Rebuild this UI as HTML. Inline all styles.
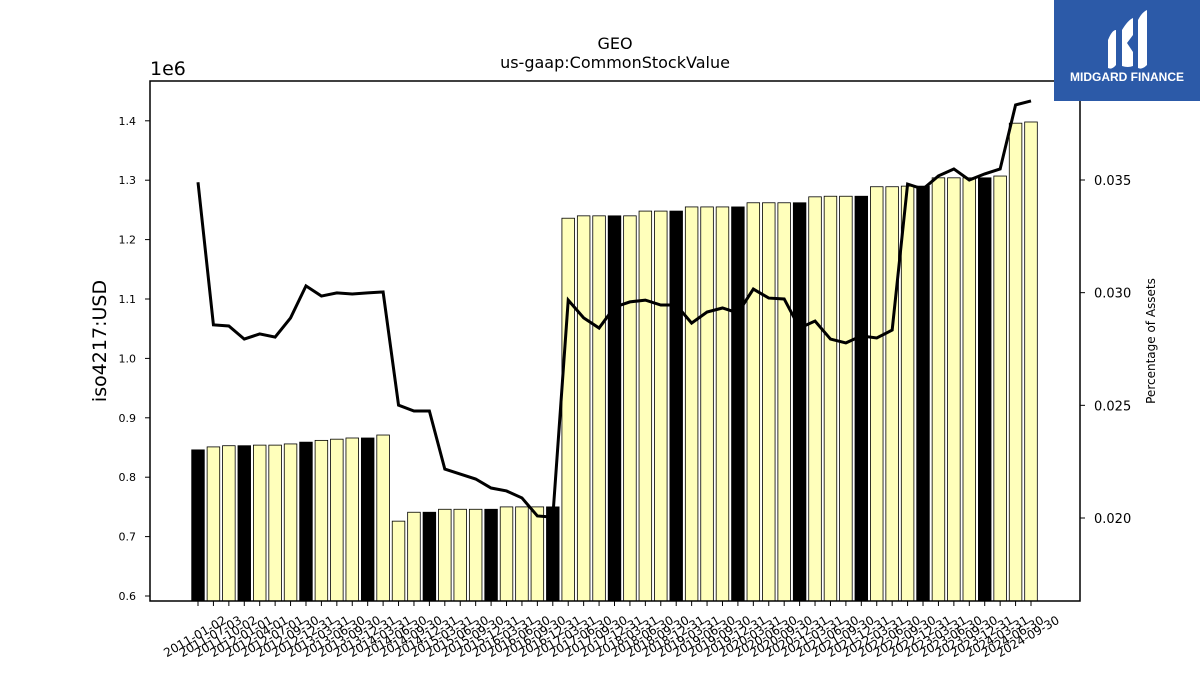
<!DOCTYPE html>
<html><head><meta charset="utf-8"><style>
body{margin:0;background:#fff;width:1200px;height:675px;overflow:hidden;font-family:"Liberation Sans","DejaVu Sans",sans-serif}
svg text{font-family:"DejaVu Sans","Liberation Sans",sans-serif}
</style></head><body>
<svg id="c" width="1200" height="675" xmlns="http://www.w3.org/2000/svg">
<text x="615" y="49" font-size="16" text-anchor="middle">GEO</text>
<text x="615" y="68" font-size="16" text-anchor="middle">us-gaap:CommonStockValue</text>
<text x="150" y="75" font-size="19">1e6</text>
<text transform="translate(106,341) rotate(-90)" font-size="19" text-anchor="middle">iso4217:USD</text>
<text transform="translate(1155,341) rotate(-90)" font-size="12" text-anchor="middle">Percentage of Assets</text>
<g id="bars"></g>
<g id="axes"></g>
<path id="line" fill="none" stroke="#000" stroke-width="3"/>
<rect x="150" y="81" width="930" height="520" fill="none" stroke="#000" stroke-width="1.5"/>
<g>
<rect x="1054" y="0" width="146" height="101" fill="#2c5aa8"/>
<path d="M1108 40 Q1112 30 1116 30 L1116 65 Q1112 70 1108 68 Z" fill="#fff"/>
<path d="M1122 30 Q1128 20 1133 18 L1133 35 L1127 43 L1133 52 L1133 66 Q1128 68 1122 66 Z" fill="#fff"/>
<path d="M1138 20 Q1142 12 1147 10 L1147 65 Q1142 70 1138 68 Z" fill="#fff"/>
<text x="1127" y="81" font-size="12" font-weight="bold" fill="#fff" text-anchor="middle" style="font-family:'Liberation Sans',sans-serif">MIDGARD FINANCE</text>
</g>
</svg>
<script>
const labels=["2011-01-02","2011-07-03","2011-10-02","2012-01-01","2012-04-01","2012-07-01","2012-09-30","2012-12-31","2013-03-31","2013-06-30","2013-09-30","2013-12-31","2014-03-31","2014-06-30","2014-09-30","2014-12-31","2015-03-31","2015-06-30","2015-09-30","2015-12-31","2016-03-31","2016-06-30","2016-09-30","2016-12-31","2017-03-31","2017-06-30","2017-09-30","2017-12-31","2018-03-31","2018-06-30","2018-09-30","2018-12-31","2019-03-31","2019-06-30","2019-09-30","2019-12-31","2020-03-31","2020-06-30","2020-09-30","2020-12-31","2021-03-31","2021-06-30","2021-09-30","2021-12-31","2022-03-31","2022-06-30","2022-09-30","2022-12-31","2023-03-31","2023-06-30","2023-09-30","2023-12-31","2024-03-31","2024-06-30","2024-09-30"];
const values=[0.846,0.851,0.853,0.853,0.854,0.854,0.856,0.859,0.862,0.864,0.866,0.866,0.871,0.726,0.741,0.741,0.746,0.746,0.746,0.746,0.750,0.750,0.750,0.750,1.236,1.240,1.240,1.240,1.240,1.248,1.248,1.248,1.255,1.255,1.255,1.255,1.262,1.262,1.262,1.262,1.272,1.273,1.273,1.273,1.289,1.289,1.290,1.290,1.304,1.304,1.304,1.304,1.307,1.396,1.398];
const annual=[1,0,0,1,0,0,0,1,0,0,0,1,0,0,0,1,0,0,0,1,0,0,0,1,0,0,0,1,0,0,0,1,0,0,0,1,0,0,0,1,0,0,0,1,0,0,0,1,0,0,0,1,0,0,0];
const pct=[0.0349,0.02857,0.02852,0.02794,0.02817,0.02803,0.02888,0.0303,0.02985,0.02999,0.02994,0.02999,0.03003,0.02501,0.02475,0.02475,0.02217,0.02195,0.02173,0.02133,0.0212,0.02089,0.02009,0.02004,0.02967,0.02888,0.02843,0.02936,0.02959,0.02967,0.02945,0.02945,0.02865,0.02914,0.02932,0.0291,0.03016,0.02976,0.02972,0.02843,0.02874,0.02794,0.02777,0.02808,0.02799,0.02834,0.03482,0.0346,0.03518,0.03549,0.035,0.03527,0.03549,0.03833,0.03851];
const leftTicks=[0.6,0.7,0.8,0.9,1.0,1.1,1.2,1.3,1.4];
const rightTicks=[0.020,0.025,0.030,0.035];
const NS="http://www.w3.org/2000/svg";
const xs=i=>198+i*(833/(labels.length-1));
const yL=v=>596-(v-0.6)*594;
const yR=p=>180+(0.035-p)/0.015*338;
const bars=document.getElementById('bars'),axes=document.getElementById('axes');
function mk(t,a,p){const e=document.createElementNS(NS,t);for(const k in a)e.setAttribute(k,a[k]);p.appendChild(e);return e;}
values.forEach((v,i)=>{
 const r=mk('rect',{x:xs(i)-6.3,y:yL(v),width:12.6,height:601-yL(v),fill:annual[i]?'#000':'#ffffbb',stroke:'#000','stroke-width':0.8},bars);
 
 
 mk('line',{x1:xs(i),x2:xs(i),y1:601,y2:606,stroke:'#000'},axes);
 const tx=mk('text',{'font-size':12,'text-anchor':'middle',transform:`translate(${xs(i)-1},${640}) rotate(-30)`},axes);
 tx.textContent=labels[i];
 
 
});
leftTicks.forEach(v=>{
 mk('line',{x1:145,x2:150,y1:yL(v),y2:yL(v),stroke:'#000'},axes);
 const t=mk('text',{x:136,y:yL(v)+4,'font-size':11,'text-anchor':'end'},axes);
 t.textContent=v.toFixed(1);
 
 
});
rightTicks.forEach(p=>{
 mk('line',{x1:1080,x2:1085,y1:yR(p),y2:yR(p),stroke:'#000'},axes);
 const t=mk('text',{x:1094,y:yR(p)+5,'font-size':13},axes);
 t.textContent=p.toFixed(3);
 
 
});
document.getElementById('line').setAttribute('d',pct.map((p,i)=>(i?'L':'M')+xs(i)+' '+yR(p)).join(' '));
</script>
</body></html>
